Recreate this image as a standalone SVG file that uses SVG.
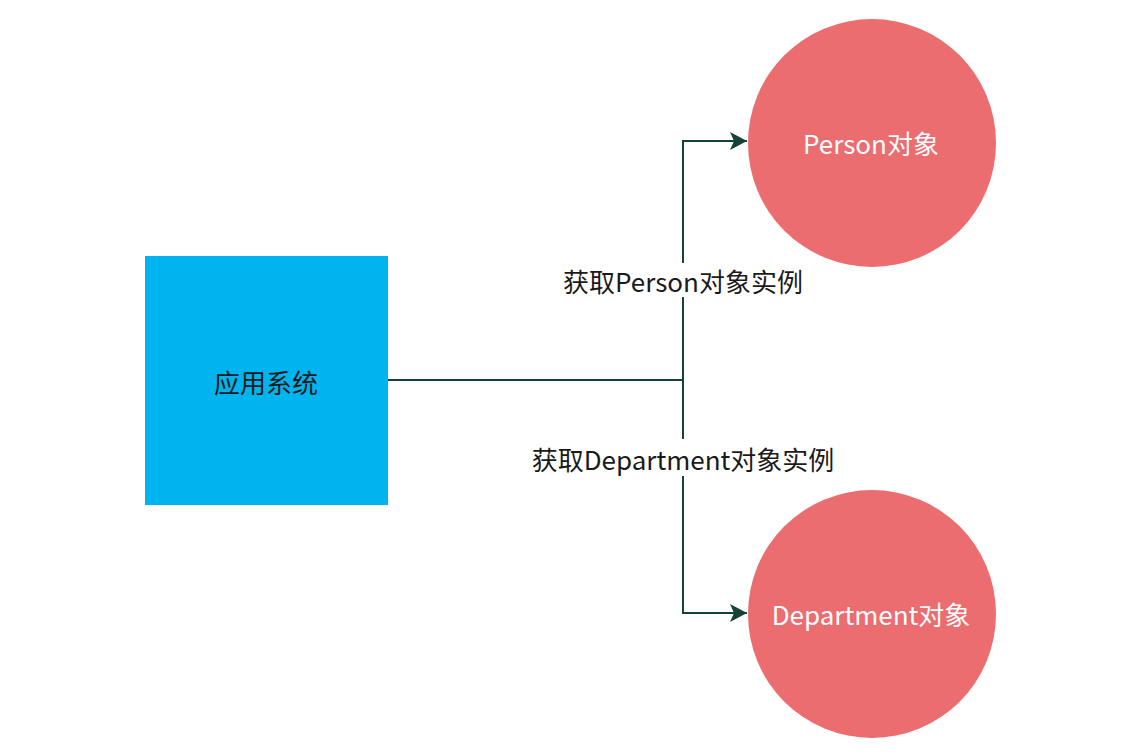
<svg xmlns="http://www.w3.org/2000/svg" width="1134" height="755" viewBox="0 0 1134 755">
<style>
text{font-family:"Noto Sans CJK SC","Microsoft YaHei",sans-serif;font-size:26px;text-anchor:middle;dominant-baseline:central}
.dark{fill:#1a1a1a}
.white{fill:#ffffff}
.edge{fill:none;stroke:#17423a;stroke-width:2}
</style>
<defs>
<marker id="arr" markerWidth="20" markerHeight="20" refX="17" refY="9" orient="auto" markerUnits="userSpaceOnUse">
<path d="M0,0 L17,9 L0,18 L4,9 Z" fill="#17423a"/>
</marker>
</defs>
<rect width="1134" height="755" fill="#ffffff"/>
<g id="connectors">
<path class="edge" d="M388,380 H683 V141 H747" marker-end="url(#arr)"/>
<path class="edge" d="M683,380 V613 H747" marker-end="url(#arr)"/>
<rect x="560" y="263" width="246" height="34" fill="#ffffff"/>
<text class="dark" x="683" y="280">获取Person对象实例</text>
<rect x="528" y="439" width="310" height="37" fill="#ffffff"/>
<text class="dark" x="683" y="458">获取Department对象实例</text>
</g>
<g id="app">
<rect x="145" y="256" width="243" height="249" fill="#00b4ef"/>
<text class="dark" x="266" y="381">应用系统</text>
</g>
<g id="person">
<circle cx="872" cy="143" r="124" fill="#eb6d70"/>
<text class="white" x="871" y="142">Person对象</text>
</g>
<g id="department">
<circle cx="872" cy="614" r="124" fill="#eb6d70"/>
<text class="white" x="871" y="613">Department对象</text>
</g>
</svg>
